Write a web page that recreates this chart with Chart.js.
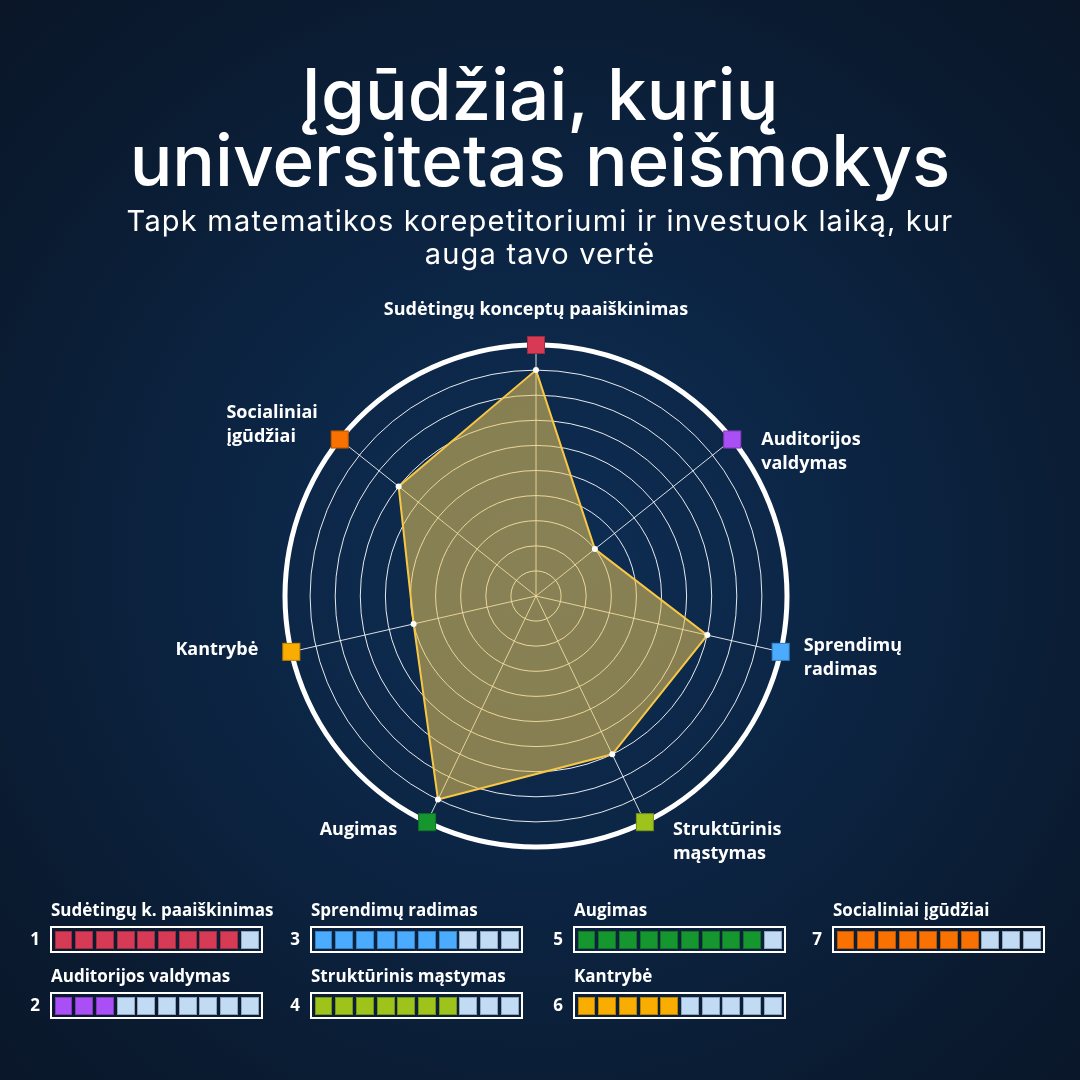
<!DOCTYPE html>
<html lang="lt">
<head>
<meta charset="utf-8">
<title>Įgūdžiai, kurių universitetas neišmokys</title>
<script src="https://cdn.jsdelivr.net/npm/chart.js@4.4.0/dist/chart.umd.min.js"></script>
<style>
  html, body { margin: 0; padding: 0; }
  body {
    width: 1080px; height: 1080px; overflow: hidden; position: relative;
    background: radial-gradient(circle at 540px 560px, #0e2e55 0%, #0c2646 35%, #0a1a2f 80%, #0a1628 100%);
    color: #fff;
  }
  #chart { position: absolute; left: 0; top: 0; }
  .title {
    position: absolute; left: 0; top: 61px; width: 1080px; text-align: center;
    font-family: Inter, sans-serif; font-weight: 500; font-size: 71px; line-height: 66px;
    letter-spacing: 0px;
  }
  .subtitle {
    position: absolute; left: 0; top: 204px; width: 1080px; text-align: center;
    font-family: Inter, sans-serif; font-weight: 400; font-size: 29px; line-height: 33px;
    letter-spacing: 1.2px;
  }
  .leg-name {
    position: absolute; font-family: "Open Sans", sans-serif; font-weight: 700; font-size: 17px;
    line-height: 20px; white-space: nowrap;
  }
  .leg-num {
    position: absolute; font-family: "Open Sans", sans-serif; font-weight: 700; font-size: 17px;
    line-height: 20px; width: 20px; text-align: center;
  }
  .leg-box {
    position: absolute; box-sizing: border-box; width: 213px; height: 27px;
    border: 2px solid #fff; padding: 2.5px 2.5px; display: flex; gap: 2.7px;
  }
  .leg-box span {
    width: 18px; height: 18px; box-sizing: border-box; border: 1px solid rgba(0,0,0,0.25);
  }
</style>
</head>
<body>
<canvas id="chart" width="1080" height="1080"></canvas>
<div class="title">Įgūdžiai, kurių<br>universitetas neišmokys</div>
<div class="subtitle">Tapk matematikos korepetitoriumi ir investuok laiką, kur<br>auga tavo vertė</div>
<div id="legend"></div>

<script>
// skills on the radar (multi-line labels) and their short legend names
const skillLabels = [
  ["Sudėtingų konceptų paaiškinimas"],
  ["Auditorijos", "valdymas"],
  ["Sprendimų", "radimas"],
  ["Struktūrinis", "mąstymas"],
  ["Augimas"],
  ["Kantrybė"],
  ["Socialiniai", "įgūdžiai"]
];
const legendNames = [
  "Sudėtingų k. paaiškinimas",
  "Auditorijos valdymas",
  "Sprendimų radimas",
  "Struktūrinis mąstymas",
  "Augimas",
  "Kantrybė",
  "Socialiniai įgūdžiai"
];
// score out of 10
const skillScores = [9, 3, 7, 7, 9, 5, 7];
const maxScore = 10;
const skillColors = ["#d63a55", "#a94ff5", "#4aabff", "#9ec41b", "#16962f", "#f9ad00", "#f97100"];
const emptyColor = "#c2dbf4";

// where each axis label sits relative to its square marker
const labelPlacement = [
  { align: "center", dx: 0, dy: -35 },
  { align: "left", dx: 29, dy: 0 },
  { align: "left", dx: 23, dy: -6 },
  { align: "left", dx: 28, dy: 8 },
  { align: "right", dx: -30, dy: 8 },
  { align: "right", dx: -33, dy: -2 },
  { align: "block", dx: -22, dy: -27 }
];

const skillMarkers = {
  id: 'skillMarkers',
  afterDatasetsDraw(chart) {
    const scale = chart.scales.r;
    const c = chart.ctx;
    c.save();
    skillLabels.forEach((lines, i) => {
      const p = scale.getPointPosition(i, scale.drawingArea);
      // square marker on the outer ring
      c.fillStyle = skillColors[i];
      c.fillRect(p.x - 9, p.y - 9, 18, 18);
      c.strokeStyle = 'rgba(0,0,0,0.25)';
      c.lineWidth = 1;
      c.strokeRect(p.x - 8.5, p.y - 8.5, 17, 17);

      c.font = '700 18px "Open Sans", sans-serif';
      c.fillStyle = '#fff';
      c.textBaseline = 'middle';
      const pl = labelPlacement[i];
      let x = p.x + pl.dx;
      if (pl.align === 'block') {
        const w = Math.max(...lines.map(l => c.measureText(l).width));
        x = x - w;
        c.textAlign = 'left';
      } else {
        c.textAlign = pl.align;
      }
      lines.forEach((line, k) => {
        c.fillText(line, x, p.y + pl.dy + k * 24);
      });
    });
    c.restore();
  }
};

const ctx = document.getElementById('chart').getContext('2d');

const skillsChart = new Chart(ctx, {
  type: 'radar',
  data: {
    labels: skillLabels,
    datasets: [{
      data: skillScores,
      backgroundColor: 'rgba(236, 198, 88, 0.55)',
      borderColor: '#f7c745',
      borderWidth: 2,
      fill: true,
      pointRadius: 3,
      pointBackgroundColor: '#fff',
      pointBorderWidth: 0,
      pointHoverRadius: 3
    }]
  },
  options: {
    responsive: false,
    animation: false,
    layout: { padding: { left: 285, right: 293, top: 345, bottom: 233 } },
    plugins: {
      legend: { display: false },
      tooltip: { enabled: false }
    },
    scales: {
      r: {
        min: 0,
        max: maxScore,
        ticks: { stepSize: 1, display: false },
        grid: {
          circular: true,
          color: (c) => (c.tick && c.tick.value === maxScore ? '#ffffff' : 'rgba(255,255,255,0.9)'),
          lineWidth: (c) => (c.tick && c.tick.value === maxScore ? 5 : 1)
        },
        angleLines: { color: 'rgba(255,255,255,0.85)', lineWidth: 1 },
        pointLabels: { display: false }
      }
    }
  },
  plugins: [skillMarkers]
});

// segmented score bars under the chart
const legendCols = [50, 310, 573, 832];
const legendRows = [926, 992];
let html = "";
legendNames.forEach((name, i) => {
  const x = legendCols[Math.floor(i / 2)];
  const y = legendRows[i % 2];
  html += `<div class="leg-name" style="left:${x + 1}px;top:${y - 26}px">${name}</div>`;
  html += `<div class="leg-num" style="left:${x - 25}px;top:${y + 3}px">${i + 1}</div>`;
  let cells = "";
  for (let k = 0; k < maxScore; k++) {
    cells += `<span style="background:${k < skillScores[i] ? skillColors[i] : emptyColor}"></span>`;
  }
  html += `<div class="leg-box" style="left:${x}px;top:${y}px">${cells}</div>`;
});
document.getElementById('legend').innerHTML = html;
</script>
</body>
</html>
